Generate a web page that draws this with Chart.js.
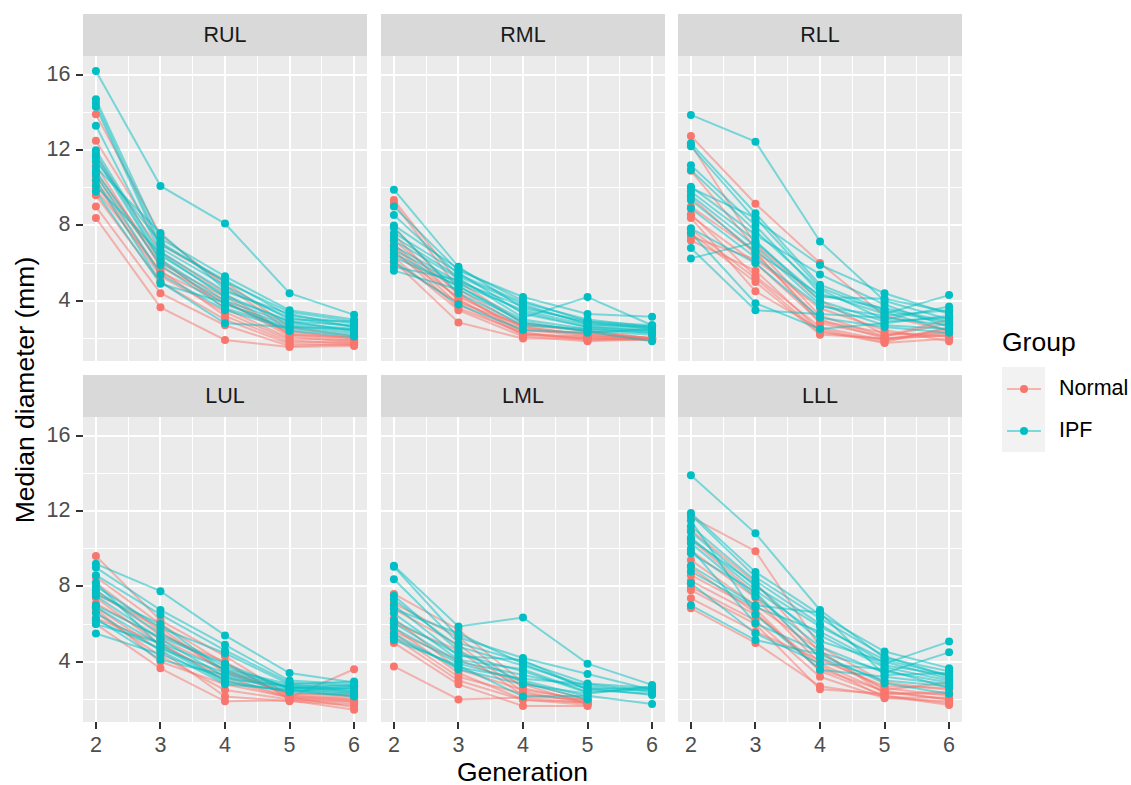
<!DOCTYPE html>
<html>
<head>
<meta charset="utf-8">
<title>Median diameter by generation</title>
<script src="https://cdn.jsdelivr.net/npm/chart.js@4.4.1/dist/chart.umd.min.js"></script>
<style>
  body { margin: 0; background: #fff; font-family: "Liberation Sans", Arial, sans-serif; }
  #wrap { position: relative; width: 1131px; height: 785px; overflow: hidden; }
  #wrap canvas { position: absolute; }
  .strip { position: absolute; background: #d9d9d9; color: #1a1a1a; font-size: 21.5px;
           display: flex; align-items: center; justify-content: center; }
  .lbl { position: absolute; line-height: 1; white-space: nowrap; }
  .ytick { color: #4d4d4d; font-size: 21.5px; transform: translate(-100%, -50%); }
  .xtick { color: #4d4d4d; font-size: 21.5px; transform: translate(-50%, 0); }
  .mark { position: absolute; background: #333; }
  .title { color: #000; font-size: 26.5px; }
  .key { position: absolute; background: #f2f2f2; }
</style>
</head>
<body>
<div id="wrap"></div>
<script>
const generations = [2, 3, 4, 5, 6];
const lobes = ['RUL', 'RML', 'RLL', 'LUL', 'LML', 'LLL'];
const xTickValues = [2, 3, 4, 5, 6];
const yTickValues = [4, 8, 12, 16];

// one row per subject, values for generation 2..6 (null = not measured)
const rulNormal = [
  [13.9, 7.5, 4.8, 2.4, 2.0],
  [12.5, 7.0, 5.0, 2.6, 2.1],
  [11.7, 6.6, 4.4, 2.2, 1.9],
  [11.2, 5.8, 4.0, 2.1, 1.8],
  [10.8, 6.2, 3.6, 2.0, 1.9],
  [10.4, 5.5, 3.9, 2.3, 2.0],
  [10.2, 5.3, 3.4, 1.9, 1.7],
  [9.9, 5.6, 3.2, 1.8, 1.8],
  [9.6, 5.0, 3.0, 1.7, 1.65],
  [9.0, 4.4, 2.7, 1.6, 1.7],
  [8.4, 3.65, 1.92, 1.55, 1.6],
  [10.6, 6.0, 4.2, 2.2, 2.05]
];
const rulIpf = [
  [16.2, 10.1, 8.1, 4.4, 3.25],
  [14.7, 7.3, 5.3, 3.5, 3.0],
  [14.5, 7.0, 5.1, 3.2, 2.8],
  [14.3, 6.8, 4.8, 3.0, 2.9],
  [13.3, 6.6, 4.5, 3.3, 2.6],
  [12.0, 6.4, 4.3, 2.9, 2.7],
  [11.8, 6.2, 4.0, 2.8, 2.5],
  [11.6, 6.1, 3.8, 2.7, 2.4],
  [11.1, 7.6, 4.6, 3.1, 2.6],
  [10.9, 5.9, 3.6, 2.6, 2.3],
  [10.7, 5.4, 3.5, 2.5, 2.2],
  [10.4, 5.0, 2.8, 2.6, 2.5],
  [10.1, 6.5, 4.2, 2.9, 2.4],
  [9.8, 4.9, 3.9, 2.4, 2.1],
  [11.4, 7.1, 5.0, 3.4, 2.9]
];

const rmlNormal = [
  [9.35, 5.0, 2.8, 2.4, 2.0],
  [9.2, 4.6, 2.6, 2.2, 2.0],
  [7.9, 4.3, 2.5, 2.1, 2.0],
  [7.5, 4.0, 2.4, 2.3, 2.0],
  [7.2, 4.4, 2.3, 2.0, 1.95],
  [6.9, 3.8, 2.2, 2.1, 2.0],
  [6.7, 3.6, 2.3, 1.9, 2.0],
  [6.5, 4.2, 2.6, 2.2, 2.05],
  [6.3, 3.5, 2.1, 1.85, 1.95],
  [6.1, 2.85, 2.0, 2.0, 2.0],
  [6.0, 3.9, 2.7, 2.4, 2.0],
  [7.0, 4.1, 2.2, 2.0, 1.9]
];
const rmlIpf = [
  [9.9, 5.8, 3.6, 2.9, 2.7],
  [9.0, 5.6, 4.2, 3.3, 3.15],
  [8.55, 5.4, 3.9, 3.0, 2.6],
  [8.0, 5.7, 4.0, 2.9, 2.5],
  [7.6, 5.5, 3.3, 2.6, 2.4],
  [7.2, 5.2, 3.1, 4.2, 2.7],
  [6.9, 5.0, 3.7, 2.8, 2.6],
  [6.7, 4.9, 3.5, 2.7, 2.5],
  [6.5, 4.75, 3.0, 2.5, 2.3],
  [6.3, 4.8, 2.8, 2.4, 2.2],
  [6.1, 3.8, 2.45, 2.3, 2.5],
  [5.8, 5.1, 3.4, 2.6, 2.4],
  [5.6, 4.6, 2.9, 2.35, 1.85],
  [7.4, 5.3, 3.8, 2.75, 2.6],
  [7.9, 4.4, 2.7, 2.5, 2.3]
];

const rllNormal = [
  [12.75, 9.15, 6.0, 3.2, 2.4],
  [12.3, 7.0, 4.0, 2.2, 2.3],
  [10.9, 6.8, 3.2, 2.1, 2.8],
  [9.5, 6.5, 3.0, 2.0, 2.2],
  [8.6, 5.3, 2.6, 1.9, 2.5],
  [8.5, 6.0, 2.9, 2.3, 2.1],
  [8.4, 4.5, 2.5, 1.8, 2.6],
  [7.6, 5.0, 2.2, 2.0, 2.3],
  [7.4, 6.2, 3.6, 2.45, 1.85],
  [7.2, 5.6, 2.4, 1.75, 2.0],
  [9.0, 6.6, 2.8, 2.1, 3.0],
  [7.8, 5.2, 2.3, 1.95, 2.15]
];
const rllIpf = [
  [13.87, 12.45, 7.15, 4.0, 3.0],
  [12.36, 8.65, 4.85, 3.5, 2.8],
  [12.2, 8.3, 5.9, 4.4, 3.3],
  [11.2, 8.0, 4.4, 3.3, 4.3],
  [10.95, 7.7, 4.6, 3.0, 3.7],
  [10.06, 7.5, 5.4, 3.8, 2.6],
  [9.8, 7.2, 4.0, 2.9, 3.1],
  [9.6, 6.9, 3.8, 2.7, 2.5],
  [9.35, 6.6, 4.3, 3.6, 2.9],
  [8.9, 6.3, 3.7, 3.2, 3.5],
  [7.85, 6.0, 3.1, 2.6, 2.3],
  [7.6, 3.87, 2.5, 2.8, 3.2],
  [6.8, 3.5, 3.3, 3.1, 2.7],
  [6.25, 7.1, 4.2, 4.1, 3.4],
  [10.0, 8.4, 4.7, 3.4, 2.4]
];

const lulNormal = [
  [9.62, 6.2, 4.3, 2.2, 2.0],
  [8.5, 6.0, 3.9, 2.1, 3.6],
  [8.2, 5.6, 3.5, 2.3, 2.2],
  [7.8, 5.4, 4.0, 2.0, 1.9],
  [7.4, 4.9, 3.2, 2.1, 2.0],
  [7.1, 5.2, 3.6, 2.2, 2.1],
  [6.9, 4.6, 2.15, 1.9, 1.7],
  [6.6, 4.3, 2.5, 2.0, 1.8],
  [6.3, 5.0, 3.0, 2.1, 1.6],
  [6.0, 3.65, 1.9, 1.95, 1.45],
  [7.6, 5.8, 3.4, 2.3, 2.3],
  [6.8, 4.0, 2.8, 2.1, 1.9]
];
const lulIpf = [
  [9.2, 7.75, 5.4, 3.4, 2.9],
  [9.0, 6.75, 4.9, 3.0, 2.8],
  [8.6, 6.5, 4.6, 2.9, 2.7],
  [8.0, 5.8, 4.45, 2.8, 2.95],
  [7.8, 5.5, 3.75, 2.6, 2.6],
  [7.6, 6.0, 3.5, 2.7, 2.4],
  [7.5, 5.2, 3.2, 2.5, 2.3],
  [6.9, 4.9, 3.0, 2.4, 2.2],
  [6.6, 4.6, 2.8, 2.5, 2.15],
  [6.3, 4.1, 3.3, 2.6, 2.7],
  [6.0, 5.0, 3.6, 2.8, 2.5],
  [5.5, 4.4, 3.1, 2.7, 2.75],
  [7.0, 5.3, 3.9, 2.55, 2.35],
  [8.2, 4.8, 2.9, 2.45, 2.6],
  [6.2, 4.7, 3.4, 2.65, 2.45]
];

const lmlNormal = [
  [7.6, 5.7, 2.9, 2.0, null],
  [7.1, 5.3, 2.6, 1.9, null],
  [6.8, 4.9, 2.4, 1.8, null],
  [6.05, 4.6, 2.2, 1.97, null],
  [5.8, 3.4, 2.0, 1.7, null],
  [5.5, 3.2, 2.3, 1.9, null],
  [5.3, 3.0, 1.97, 1.85, null],
  [5.0, 2.8, 1.65, 1.65, null],
  [3.75, 2.0, 2.1, 1.8, null],
  [6.3, 3.6, 2.5, 2.0, null],
  [5.6, 4.1, 2.8, 1.75, null]
];
const lmlIpf = [
  [9.1, 5.87, 6.35, 3.9, 2.77],
  [9.05, 5.3, 4.2, 3.35, 2.5],
  [8.38, 5.0, 4.0, 2.85, 2.6],
  [7.3, 4.8, 3.8, 2.7, 2.4],
  [7.0, 4.3, 4.1, 2.5, 2.3],
  [6.57, 4.1, 3.6, 2.4, 2.55],
  [6.05, 4.0, 3.3, 2.6, 2.24],
  [5.8, 3.9, 3.0, 2.15, null],
  [5.5, 3.6, 2.8, 2.3, 2.7],
  [5.15, 3.8, 2.15, 2.2, 1.75],
  [6.2, 4.4, 3.5, 2.35, null],
  [7.5, 4.6, 2.9, 2.0, null],
  [5.3, 3.7, 3.1, 2.8, 2.45],
  [6.8, 5.5, 3.9, 2.55, 2.6]
];

const lllNormal = [
  [11.7, 9.87, 4.8, 2.9, 2.5],
  [11.0, 8.2, 4.5, 2.5, 2.9],
  [10.5, 7.6, 4.2, 2.6, 2.2],
  [9.9, 7.4, 3.9, 2.4, 2.0],
  [9.4, 7.0, 4.6, 2.3, 2.4],
  [8.6, 6.8, 3.5, 2.2, 1.8],
  [8.3, 6.5, 3.8, 2.1, 2.1],
  [7.96, 6.2, 3.2, 2.06, 1.9],
  [7.8, 6.0, 2.54, 2.3, 2.3],
  [7.37, 5.6, 4.1, 2.7, 2.6],
  [6.84, 5.0, 2.7, 2.2, 1.7],
  [9.0, 6.6, 3.6, 2.45, 2.0]
];
const lllIpf = [
  [13.9, 10.82, 6.75, 4.2, 3.5],
  [11.9, 8.77, 6.5, 4.54, 3.66],
  [11.8, 8.5, 6.3, 4.3, 3.2],
  [11.2, 8.3, 6.0, 3.9, 5.07],
  [10.9, 8.0, 5.87, 4.1, 3.3],
  [10.6, 7.8, 5.4, 3.7, 3.0],
  [10.3, 7.46, 4.8, 3.4, 4.5],
  [10.0, 6.04, 4.5, 3.5, 2.9],
  [9.76, 7.7, 4.2, 3.0, 2.7],
  [9.1, 7.0, 6.6, 3.3, 3.4],
  [8.17, 5.5, 3.9, 3.6, 2.6],
  [7.0, 5.15, 4.4, 2.86, 2.3],
  [10.5, 8.1, 5.1, 4.0, 3.1],
  [11.5, 6.5, 3.57, 3.2, 2.8],
  [8.8, 6.9, 5.6, 3.8, 3.3]
];

const normalByLobe = { RUL: rulNormal, RML: rmlNormal, RLL: rllNormal, LUL: lulNormal, LML: lmlNormal, LLL: lllNormal };
const ipfByLobe = { RUL: rulIpf, RML: rmlIpf, RLL: rllIpf, LUL: lulIpf, LML: lmlIpf, LLL: lllIpf };

// layout (px)
const colLeft = [83, 381, 678];
const rowTop = [56, 417];
const panelW = 284;
const panelH = 305;
const stripH = 42;
const xMin = 1.8, xMax = 6.2;
const yMin = 0.8, yMax = 17.0;

const normalColor = '#F8766D';
const ipfColor = '#00BFC4';
const normalLine = 'rgba(248,118,109,0.5)';
const ipfLine = 'rgba(0,191,196,0.5)';

const wrap = document.getElementById('wrap');

function addEl(cls, styles, text) {
  const el = document.createElement('div');
  el.className = cls;
  Object.assign(el.style, styles);
  if (text !== undefined) el.textContent = text;
  wrap.appendChild(el);
  return el;
}

const toPoints = (vals) => vals
  .map((v, i) => (v == null ? null : { x: generations[i], y: v }))
  .filter(p => p);

const panelBackground = {
  id: 'panelBackground',
  beforeDraw(chart) {
    const { ctx, chartArea: a } = chart;
    ctx.save();
    ctx.fillStyle = '#ebebeb';
    ctx.fillRect(a.left, a.top, a.width, a.height);
    ctx.restore();
  }
};

const xGrid = [];
xTickValues.forEach((v, i) => {
  if (i > 0) xGrid.push((v + xTickValues[i - 1]) / 2);
  xGrid.push(v);
});
const yGrid = [];
yTickValues.forEach(v => { yGrid.push(v - 2); yGrid.push(v); });

function makePanel(lobe, idx) {
  const col = idx % 3, row = Math.floor(idx / 3);
  const left = colLeft[col], top = rowTop[row];

  addEl('strip', { left: left + 'px', top: (top - stripH) + 'px', width: panelW + 'px', height: stripH + 'px' }, lobe);

  const canvas = document.createElement('canvas');
  canvas.width = panelW;
  canvas.height = panelH;
  canvas.style.left = left + 'px';
  canvas.style.top = top + 'px';
  wrap.appendChild(canvas);

  const datasets = [];
  datasets.push({
    data: ipfByLobe[lobe].flatMap(toPoints),
    pointRadius: 4, pointBorderWidth: 0,
    pointBackgroundColor: ipfColor, showLine: false, order: 0
  });
  datasets.push({
    data: normalByLobe[lobe].flatMap(toPoints),
    pointRadius: 4, pointBorderWidth: 0,
    pointBackgroundColor: normalColor, showLine: false, order: 1
  });
  ipfByLobe[lobe].forEach(s => datasets.push({
    data: toPoints(s), showLine: true, borderColor: ipfLine, borderWidth: 2,
    pointRadius: 0, order: 2
  }));
  normalByLobe[lobe].forEach(s => datasets.push({
    data: toPoints(s), showLine: true, borderColor: normalLine, borderWidth: 2,
    pointRadius: 0, order: 3
  }));

  new Chart(canvas, {
    type: 'scatter',
    data: { datasets },
    options: {
      responsive: false,
      animation: false,
      devicePixelRatio: 1,
      layout: { padding: 0, autoPadding: false },
      plugins: { legend: { display: false }, tooltip: { enabled: false } },
      scales: {
        x: {
          type: 'linear', min: xMin, max: xMax,
          afterBuildTicks: (scale) => { scale.ticks = xGrid.map(value => ({ value })); },
          ticks: { display: false },
          border: { display: false },
          grid: {
            drawTicks: false, color: '#ffffff',
            lineWidth: (c) => (c.tick && Number.isInteger(c.tick.value) ? 2 : 1)
          }
        },
        y: {
          type: 'linear', min: yMin, max: yMax,
          afterBuildTicks: (scale) => { scale.ticks = yGrid.map(value => ({ value })); },
          ticks: { display: false },
          border: { display: false },
          grid: {
            drawTicks: false, color: '#ffffff',
            lineWidth: (c) => (c.tick && c.tick.value % 4 === 0 ? 2 : 1)
          }
        }
      }
    },
    plugins: [panelBackground]
  });

  // y axis on the left column
  if (col === 0) {
    yTickValues.forEach(v => {
      const py = top + (yMax - v) / (yMax - yMin) * panelH;
      addEl('mark', { left: (left - 7) + 'px', top: (py - 1) + 'px', width: '7px', height: '2px' });
      addEl('lbl ytick', { left: (left - 12.5) + 'px', top: py + 'px' }, String(v));
    });
  }
  // x axis on the bottom row
  if (row === 1) {
    xTickValues.forEach(v => {
      const px = left + (v - xMin) / (xMax - xMin) * panelW;
      addEl('mark', { left: (px - 1) + 'px', top: (top + panelH) + 'px', width: '2px', height: '7px' });
      addEl('lbl xtick', { left: px + 'px', top: (top + panelH + 13) + 'px' }, String(v));
    });
  }
}

lobes.forEach(makePanel);

// axis titles
addEl('lbl title', { left: '522.5px', top: '772px', transform: 'translate(-50%, -50%)' }, 'Generation');
addEl('lbl title', { left: '25px', top: '390px', transform: 'translate(-50%, -50%) rotate(-90deg)' }, 'Median diameter (mm)');

// legend
addEl('lbl title', { left: '1002px', top: '342px', transform: 'translateY(-50%)' }, 'Group');
const legendItems = [
  { label: 'Normal', point: normalColor, line: normalLine },
  { label: 'IPF', point: ipfColor, line: ipfLine }
];
addEl('key', { left: '1002px', top: '367px', width: '43px', height: '85px' });
legendItems.forEach((item, i) => {
  const cy = 388.5 + i * 42.5;
  addEl('mark', { left: '1007px', top: (cy - 1) + 'px', width: '34px', height: '2px', background: item.line });
  addEl('mark', { left: '1019.5px', top: (cy - 4) + 'px', width: '8px', height: '8px', borderRadius: '50%', background: item.point });
  addEl('lbl', { left: '1059px', top: cy + 'px', fontSize: '21.5px', color: '#000', transform: 'translateY(-50%)' }, item.label);
});
</script>
</body>
</html>
